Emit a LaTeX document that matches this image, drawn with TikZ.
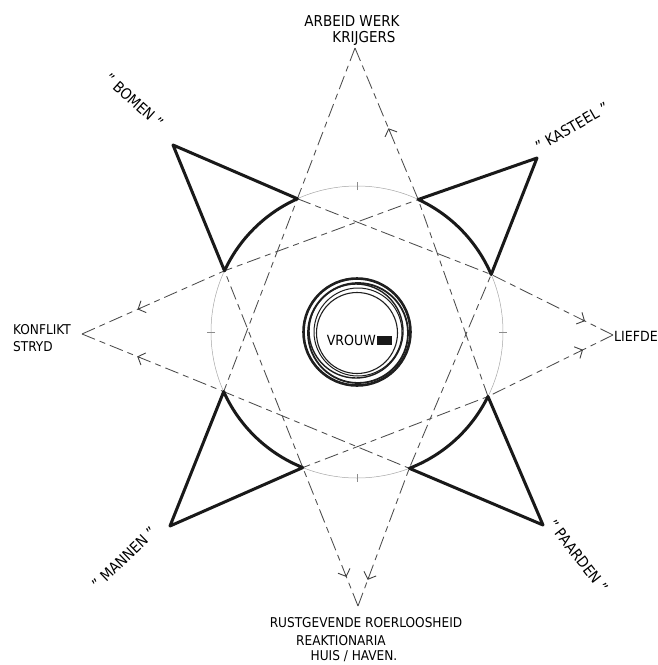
\documentclass[tikz,border=0pt]{standalone}
\usepackage{fontspec}
\setmainfont{DejaVu Sans Condensed}
\usetikzlibrary{arrows.meta,calc}
\begin{document}
\begin{tikzpicture}[x=1pt,y=1pt,
  lbl/.style={font=\fontsize{15}{15}\selectfont, inner sep=0pt, text=black},
  boldline/.style={line width=3pt, black!90, line cap=round, line join=round},
  dashline/.style={line width=0.85pt, black!70, dash pattern=on 14pt off 5pt on 6pt off 5pt},
  arr/.style={-{Straight Barb[length=6pt,width=13pt]}, line width=0.9pt, black!75},
  ring/.style={black!88}
]
\useasboundingbox (0,0) rectangle (658,-665);
% centre and circle points
\coordinate (C) at (357,-332);
\coordinate (n1) at (297.4,-198.7);
\coordinate (n2) at (418.2,-199.5);
\coordinate (n3) at (491.2,-274.5);
\coordinate (n4) at (488.0,-396.5);
\coordinate (n5) at (409.3,-468.3);
\coordinate (n6) at (302.8,-467.6);
\coordinate (n7) at (223.7,-391.6);
\coordinate (n8) at (224.5,-270.8);
% dashed star tips
\coordinate (T) at (355,-48);
\coordinate (B) at (358,-606);
\coordinate (L) at (82,-334);
\coordinate (R) at (613,-335);
% bold triangle tips
\coordinate (BO) at (173,-145);
\coordinate (KA) at (537,-158);
\coordinate (MA) at (170,-526);
\coordinate (PA) at (543,-525);

% faint construction circle
\draw[black!35, line width=0.5pt] (C) circle[radius=146];
\draw[black!45, line width=0.6pt] ($(C)+(0,142)$) -- ($(C)+(0,150)$);
\draw[black!45, line width=0.6pt] ($(C)+(0,-142)$) -- ($(C)+(0,-150)$);
\draw[black!45, line width=0.6pt] ($(C)+(-142,0)$) -- ($(C)+(-150,0)$);
\draw[black!45, line width=0.6pt] ($(C)+(142,0)$) -- ($(C)+(150,0)$);

% dashed star
\draw[dashline] (T) -- (n1) -- (n7);
\draw[dashline] (T) -- (n2) -- (n4);
\draw[dashline] (B) -- (n6) -- (n8);
\draw[dashline] (B) -- (n5) -- (n3);
\draw[dashline] (L) -- (n8) -- (n2);
\draw[dashline] (L) -- (n7) -- (n5);
\draw[dashline] (R) -- (n3) -- (n1);
\draw[dashline] (R) -- (n4) -- (n6);

% arrowheads pointing to the tips
\draw[arr] ($(T)!0.55!(n2)$) -- ($(T)!0.53!(n2)$);
\draw[arr] ($(L)!0.41!(n8)$) -- ($(L)!0.39!(n8)$);
\draw[arr] ($(L)!0.41!(n7)$) -- ($(L)!0.39!(n7)$);
\draw[arr] ($(R)!0.25!(n3)$) -- ($(R)!0.23!(n3)$);
\draw[arr] ($(R)!0.26!(n4)$) -- ($(R)!0.24!(n4)$);
\draw[arr] ($(B)!0.23!(n6)$) -- ($(B)!0.21!(n6)$);
\draw[arr] ($(B)!0.21!(n5)$) -- ($(B)!0.19!(n5)$);

% bold triangles
\draw[boldline] (n1) -- (BO) -- (n8) arc[start angle=155.2, end angle=114.1, radius=146];
\draw[boldline] (n2) -- (KA) -- (n3) arc[start angle=23.2, end angle=65.2, radius=146];
\draw[boldline] (n4) -- (PA) -- (n5) arc[start angle=-69, end angle=-26.2, radius=146];
\draw[boldline] (n6) -- (MA) -- (n7) arc[start angle=204.1, end angle=248.2, radius=146];

% central rings
\draw[ring, line width=2.6pt] (C) circle[radius=53.5];
\draw[ring, line width=1.8pt] ($(C)+(1,-1)$) circle[radius=50];
\draw[ring, line width=1.4pt] ($(C)+(-1,1)$) circle[radius=47];
\draw[ring, line width=1pt] ($(C)+(1,0)$) circle[radius=44];
\draw[ring, line width=1.1pt] ($(C)+(0,-1)$) circle[radius=40.5];
\node[font=\fontsize{14}{14}\selectfont, inner sep=0pt, anchor=east, text=black] (vrouw) at (376,-340) {VROUW};
\node[fill=black!90, minimum width=15pt, minimum height=9pt, inner sep=0pt, anchor=west] (blk) at ([xshift=1pt]vrouw.east) {};

% labels
\node[lbl] (arbeid) at (352,-21) {ARBEID WERK};
\node[lbl] (krijgers) at (364,-38) {KRIJGERS};
\node[lbl, rotate=-42] (bomen) at (134,-101) {" BOMEN "};
\node[lbl, rotate=30] (kasteel) at (572,-127) {" KASTEEL "};
\node[lbl, font=\fontsize{13.5}{13.5}\selectfont, anchor=west] (konflikt) at (13,-330) {KONFLIKT};
\node[lbl, font=\fontsize{13.5}{13.5}\selectfont, anchor=west] (strijd) at (13,-347) {STRYD};
\node[lbl, font=\fontsize{14}{14}\selectfont, anchor=west] (liefde) at (614,-336) {LIEFDE};
\node[lbl, rotate=44] (mannen) at (124,-558) {" MANNEN "};
\node[lbl, rotate=-52] (paarden) at (578,-556) {" PAARDEN "};
\node[lbl, font=\fontsize{13.5}{13.5}\selectfont] (rust) at (366,-623) {RUSTGEVENDE ROERLOOSHEID};
\node[lbl, font=\fontsize{13.5}{13.5}\selectfont] (reak) at (341,-641) {REAKTIONARIA};
\node[lbl, font=\fontsize{13.5}{13.5}\selectfont] (huis) at (354,-656) {HUIS / HAVEN.};
\end{tikzpicture}
\end{document}
